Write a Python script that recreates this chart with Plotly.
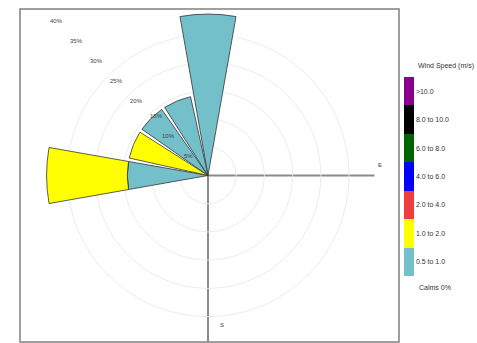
import plotly.graph_objects as go

# ---- data ----
directions = [0, 22.5, 45, 67.5, 90, 112.5, 135, 157.5,
              180, 202.5, 225, 247.5, 270, 292.5, 315, 337.5]
dir_names = ["N", "NNE", "NE", "ENE", "E", "ESE", "SE", "SSE",
             "S", "SSW", "SW", "WSW", "W", "WNW", "NW", "NNW"]
speed_bins = ["0.5 to 1.0", "1.0 to 2.0", "2.0 to 4.0", "4.0 to 6.0",
              "6.0 to 8.0", "8.0 to 10.0", ">10.0"]
freq_05_10 = [28.6, 0, 0, 0, 0, 0, 0, 0, 0, 0, 0, 0, 14.3, 0, 14.3, 14.3]
freq_10_20 = [0, 0, 0, 0, 0, 0, 0, 0, 0, 0, 0, 0, 14.3, 14.3, 0, 0]
ring_values = [5, 10, 15, 20, 25, 30, 35, 40]
calms_label = "Calms 0%"

bin_colors = ["#74c0ca", "#ffff00", "#f03c3c", "#0000ff",
              "#006400", "#000000", "#8b008b"]

W, H = 477, 343
cx, cy = 208, 175.5
rad_px = 166.5
rmax = 29.5
scale = rad_px / rmax

fig = go.Figure()

series = [freq_05_10, freq_10_20]
for i, vals in enumerate(series):
    th = [d for d, v in zip(directions, vals) if v > 0]
    rr = [v for v in vals if v > 0]
    fig.add_trace(go.Barpolar(
        r=rr, theta=th, width=20, name=speed_bins[i],
        marker=dict(color=[i + 0.5] * len(rr), coloraxis="coloraxis",
                    line=dict(color="#333333", width=0.8)),
        showlegend=False, hoverinfo="skip"))

n = len(bin_colors)
cscale = []
for i, c in enumerate(bin_colors):
    cscale.append([i / n, c])
    cscale.append([(i + 1) / n, c])

inner_rings = [v for v in ring_values if v < rmax]

annotations = []
for v in ring_values:
    px = cx - v * scale * 0.7071
    py = cy - v * scale * 0.7071
    annotations.append(dict(x=px / W, y=1 - py / H, xref="paper", yref="paper",
                            text=f"{v}%", showarrow=False,
                            font=dict(size=6, color="#444")))
annotations += [
    dict(x=384 / W, y=1 - 165 / H, xref="paper", yref="paper", text="E",
         showarrow=False, font=dict(size=6, color="#444")),
    dict(x=222 / W, y=1 - 330 / H, xref="paper", yref="paper", text="S",
         showarrow=False, font=dict(size=6, color="#444")),
    dict(x=416 / W, y=1 - 60 / H, xref="paper", yref="paper",
         text="Wind Speed (m/s)", xanchor="left", showarrow=False,
         font=dict(size=7, color="#333")),
    dict(x=417 / W, y=1 - 293 / H, xref="paper", yref="paper",
         text=calms_label, xanchor="left", showarrow=False,
         font=dict(size=7, color="#333")),
]

fig.update_layout(
    width=W, height=H, margin=dict(l=0, r=0, t=0, b=0),
    paper_bgcolor="white", plot_bgcolor="white",
    font=dict(family="Liberation Sans, Arial, sans-serif"),
    polar=dict(
        domain=dict(x=[(cx - rad_px) / W, (cx + rad_px) / W],
                    y=[(H - cy - rad_px) / H, (H - cy + rad_px) / H]),
        bgcolor="rgba(0,0,0,0)",
        barmode="stack", bargap=0,
        angularaxis=dict(rotation=90, direction="clockwise",
                         tickvals=[90, 180], showticklabels=False,
                         ticks="", showline=False,
                         gridcolor="#8a8a8a", gridwidth=1.5),
        radialaxis=dict(range=[0, rmax], tickvals=inner_rings,
                        showticklabels=False,
                        angle=135, showline=False, ticks="",
                        gridcolor="#ececec", gridwidth=1),
    ),
    coloraxis=dict(
        colorscale=cscale, cmin=0, cmax=n,
        colorbar=dict(
            x=404 / W, xanchor="left", y=1 - 176.5 / H, yanchor="middle",
            xpad=0, ypad=0,
            thickness=10, len=199, lenmode="pixels",
            tickvals=[i + 0.5 for i in range(n)], ticktext=speed_bins,
            ticks="", ticklen=0, outlinewidth=0,
            tickfont=dict(size=7, color="#333"),
        ),
    ),
    shapes=[dict(type="rect", xref="paper", yref="paper",
                 x0=20 / W, x1=399 / W, y0=1 - 342 / H, y1=1 - 9 / H,
                 line=dict(color="#808080", width=1.5), layer="below")],
    annotations=annotations,
)

fig.write_html("out.html", config={"displayModeBar": False},
               post_script="document.body.style.margin='0';")
